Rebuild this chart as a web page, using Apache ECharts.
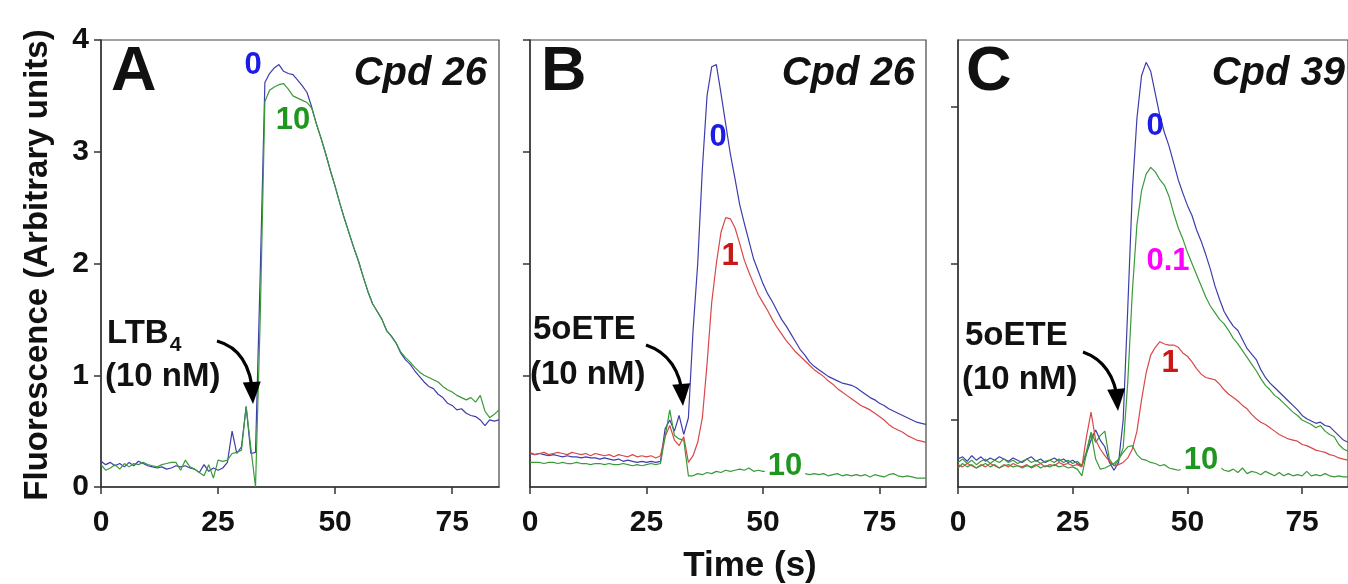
<!DOCTYPE html>
<html><head><meta charset="utf-8">
<script src="https://cdn.jsdelivr.net/npm/echarts@6/dist/echarts.min.js"></script>
<style>html,body{margin:0;padding:0;background:#fff}#c{width:1348px;height:584px}</style>
</head><body><div id="c"></div>
<script>
// ---- data (time in s, fluorescence in arbitrary units) ----
const time = [0,1,2,3,4,5,6,7,8,9,10,11,12,13,14,15,16,17,18,19,20,21,22,23,24,25,26,27,28,29,30,31,32,33,34,35,36,37,38,39,40,41,42,43,44,45,46,47,48,49,50,51,52,53,54,55,56,57,58,59,60,61,62,63,64,65,66,67,68,69,70,71,72,73,74,75,76,77,78,79,80,81,82,83,84,85];
const xTickValues = [0,25,50,75];
const yTickValues = [0,1,2,3,4];

// Panel A (LTB4, Cpd 26)
const A_0 = [0.23,0.20,0.22,0.19,0.21,0.18,0.22,0.19,0.23,0.21,0.19,0.18,0.17,0.18,0.16,0.17,0.19,0.18,0.19,0.17,0.16,0.13,0.20,0.14,0.17,0.15,0.17,0.22,0.50,0.30,0.36,0.72,0.30,0.31,1.90,3.62,3.70,3.75,3.78,3.72,3.70,3.69,3.64,3.59,3.53,3.40,3.25,3.12,2.98,2.83,2.69,2.54,2.40,2.27,2.14,2.02,1.88,1.75,1.64,1.57,1.50,1.40,1.35,1.29,1.20,1.14,1.10,1.04,0.99,0.94,0.90,0.88,0.83,0.80,0.75,0.73,0.69,0.70,0.66,0.64,0.63,0.60,0.55,0.60,0.59,0.60];
const A_10 = [0.20,0.15,0.17,0.20,0.16,0.21,0.18,0.21,0.20,0.22,0.20,0.19,0.18,0.20,0.21,0.22,0.22,0.15,0.24,0.18,0.16,0.13,0.10,0.20,0.08,0.24,0.23,0.24,0.30,0.31,0.33,0.72,0.35,0.00,1.50,3.45,3.55,3.58,3.60,3.61,3.56,3.50,3.48,3.46,3.44,3.39,3.25,3.12,2.98,2.83,2.69,2.54,2.40,2.27,2.14,2.02,1.88,1.75,1.64,1.57,1.50,1.40,1.35,1.29,1.21,1.16,1.12,1.07,1.03,1.00,0.98,0.96,0.94,0.90,0.87,0.85,0.82,0.80,0.78,0.80,0.76,0.82,0.68,0.62,0.65,0.69];

// Panel B (5oETE, Cpd 26)
const B_0 = [0.30,0.29,0.30,0.29,0.28,0.29,0.28,0.27,0.28,0.27,0.27,0.26,0.27,0.26,0.26,0.25,0.26,0.25,0.24,0.25,0.23,0.24,0.23,0.22,0.23,0.22,0.23,0.22,0.23,0.52,0.60,0.50,0.64,0.47,0.62,1.40,2.00,2.85,3.50,3.76,3.78,3.52,3.25,2.98,2.76,2.53,2.36,2.20,2.04,1.93,1.82,1.73,1.66,1.58,1.50,1.44,1.37,1.30,1.23,1.18,1.12,1.08,1.05,1.02,0.99,0.97,0.95,0.93,0.92,0.91,0.89,0.86,0.83,0.80,0.78,0.75,0.73,0.70,0.68,0.66,0.64,0.62,0.60,0.58,0.57,0.56];
const B_1 = [0.31,0.29,0.30,0.31,0.29,0.30,0.31,0.30,0.29,0.31,0.30,0.29,0.30,0.28,0.30,0.29,0.28,0.29,0.27,0.29,0.28,0.27,0.29,0.27,0.28,0.27,0.28,0.26,0.28,0.45,0.55,0.42,0.37,0.45,0.22,0.28,0.40,0.62,1.10,1.65,2.00,2.28,2.41,2.40,2.32,2.18,2.03,1.92,1.82,1.72,1.65,1.58,1.50,1.43,1.37,1.31,1.26,1.21,1.17,1.13,1.09,1.05,1.02,0.99,0.95,0.92,0.88,0.85,0.82,0.79,0.76,0.73,0.71,0.69,0.66,0.63,0.60,0.56,0.53,0.51,0.49,0.46,0.44,0.42,0.41,0.40];
const B_10 = [0.22,0.22,0.22,0.21,0.22,0.22,0.21,0.22,0.21,0.21,0.22,0.21,0.21,0.20,0.21,0.21,0.20,0.21,0.20,0.20,0.21,0.20,0.19,0.20,0.19,0.20,0.21,0.20,0.21,0.45,0.69,0.46,0.43,0.42,0.10,0.10,0.12,0.11,0.13,0.12,0.14,0.13,0.15,0.14,0.15,0.16,0.15,0.17,0.14,0.15,0.14,0.14,0.13,0.13,0.12,0.12,0.12,0.12,0.12,0.12,0.11,0.12,0.11,0.12,0.10,0.11,0.12,0.10,0.11,0.10,0.11,0.10,0.11,0.09,0.11,0.10,0.09,0.11,0.12,0.10,0.09,0.10,0.09,0.08,0.08,0.08];

// Panel C (5oETE, Cpd 39)
const C_0 = [0.25,0.27,0.23,0.28,0.24,0.27,0.23,0.26,0.24,0.27,0.25,0.23,0.26,0.24,0.22,0.25,0.27,0.23,0.25,0.22,0.24,0.26,0.23,0.25,0.22,0.24,0.21,0.19,0.30,0.42,0.51,0.42,0.36,0.22,0.15,0.22,0.60,1.60,2.65,3.30,3.68,3.80,3.72,3.52,3.32,3.17,3.05,2.90,2.75,2.63,2.52,2.43,2.30,2.20,2.08,1.95,1.80,1.68,1.57,1.50,1.44,1.40,1.32,1.24,1.19,1.14,1.05,0.98,0.93,0.89,0.85,0.81,0.77,0.73,0.69,0.64,0.61,0.59,0.57,0.58,0.55,0.54,0.50,0.46,0.42,0.40];
const C_01 = [0.22,0.25,0.21,0.24,0.20,0.23,0.25,0.21,0.24,0.22,0.25,0.22,0.24,0.21,0.23,0.25,0.22,0.24,0.21,0.23,0.24,0.22,0.25,0.22,0.24,0.21,0.23,0.19,0.32,0.49,0.40,0.46,0.50,0.25,0.19,0.24,0.35,0.94,1.75,2.35,2.65,2.80,2.86,2.82,2.75,2.70,2.60,2.45,2.32,2.22,2.10,2.00,1.90,1.80,1.70,1.62,1.56,1.50,1.46,1.40,1.33,1.28,1.22,1.16,1.10,1.04,0.97,0.91,0.87,0.82,0.79,0.75,0.71,0.67,0.64,0.60,0.58,0.56,0.53,0.55,0.50,0.47,0.45,0.38,0.34,0.32];
const C_1 = [0.20,0.18,0.21,0.19,0.17,0.20,0.18,0.21,0.19,0.17,0.20,0.18,0.21,0.19,0.18,0.20,0.17,0.19,0.21,0.18,0.20,0.19,0.22,0.20,0.21,0.19,0.20,0.18,0.45,0.67,0.42,0.34,0.28,0.23,0.19,0.20,0.22,0.26,0.34,0.50,0.78,1.02,1.18,1.25,1.30,1.28,1.27,1.27,1.25,1.20,1.17,1.12,1.06,1.01,0.98,0.97,0.96,0.92,0.87,0.83,0.80,0.77,0.73,0.70,0.65,0.61,0.58,0.56,0.53,0.50,0.47,0.45,0.43,0.42,0.41,0.38,0.37,0.35,0.33,0.32,0.31,0.29,0.28,0.26,0.25,0.24];
const C_10 = [0.17,0.21,0.18,0.20,0.17,0.19,0.21,0.18,0.20,0.17,0.19,0.20,0.18,0.19,0.17,0.19,0.18,0.20,0.17,0.19,0.18,0.20,0.18,0.19,0.17,0.18,0.16,0.10,0.30,0.48,0.25,0.16,0.17,0.19,0.21,0.25,0.31,0.36,0.37,0.29,0.25,0.24,0.22,0.21,0.19,0.20,0.17,0.16,0.15,0.16,0.15,0.16,0.15,0.16,0.15,0.16,0.17,0.18,0.15,0.14,0.16,0.13,0.17,0.12,0.14,0.13,0.11,0.14,0.12,0.10,0.13,0.10,0.12,0.10,0.11,0.10,0.14,0.10,0.11,0.10,0.12,0.10,0.09,0.10,0.09,0.09];

// ---- styling ----
const FONT = '"Liberation Sans", Arial, Helvetica, sans-serif';
const BLUE_LINE = '#3d3dac', GREEN_LINE = '#3a9a3a', RED_LINE = '#d84848';
const AX = '#333';

const chart = echarts.init(document.getElementById('c'), null, {renderer: 'canvas'});
const pair = arr => time.map((t, i) => [t, arr[i]]);

const grids = [
  {left: 101, top: 40, width: 398, height: 447},
  {left: 530, top: 40, width: 396, height: 447},
  {left: 958, top: 40, width: 396, height: 447}
].map(g => Object.assign(g, {show: true, borderColor: '#444', borderWidth: 1.2, backgroundColor: 'transparent', containLabel: false}));

const xAxes = [0, 1, 2].map(i => ({
  gridIndex: i, type: 'value', min: 0, max: 85,
  axisLine: {show: true, onZero: false, lineStyle: {color: AX, width: 1.5}},
  axisTick: {show: true, length: 7, customValues: xTickValues, lineStyle: {color: AX, width: 1.5}},
  axisLabel: {show: true, customValues: xTickValues, fontSize: 30, fontWeight: 'bold', color: '#111', margin: 21, fontFamily: FONT},
  splitLine: {show: false}
}));

const yTickSets = [[0,1,2,3,4], [1,2,3,4], [0.6,2,3.4]];
const yAxes = [0, 1, 2].map(i => ({
  gridIndex: i, type: 'value', min: 0, max: 4,
  axisLine: {show: true, onZero: false, lineStyle: {color: AX, width: 1.5}},
  axisTick: {show: true, length: 7, customValues: yTickSets[i], lineStyle: {color: AX, width: 1.5}},
  axisLabel: {show: i === 0, customValues: yTickValues, fontSize: 30, fontWeight: 'bold', color: '#111', margin: 12, fontFamily: FONT},
  splitLine: {show: false}
}));

function line(idx, data, color, z) {
  return {type: 'line', xAxisIndex: idx, yAxisIndex: idx, data: pair(data), showSymbol: false, symbol: 'none',
    lineStyle: {color: color, width: 1.2}, z: z || 2, animation: false};
}

const series = [
  line(0, A_0, BLUE_LINE), line(0, A_10, GREEN_LINE, 3),
  line(1, B_0, BLUE_LINE), line(1, B_1, RED_LINE, 3), line(1, B_10, GREEN_LINE, 4),
  line(2, C_0, BLUE_LINE), line(2, C_01, GREEN_LINE, 3), line(2, C_1, RED_LINE, 4), line(2, C_10, GREEN_LINE, 5)
];

chart.setOption({animation: false, grid: grids, xAxis: xAxes, yAxis: yAxes, series: series});

// ---- annotations ----
const g = [];
function txt(x, y, text, size, color, opts) {
  opts = opts || {};
  const s = {text: text, x: x, y: y, fill: color, fontSize: size, fontWeight: 'bold', fontFamily: FONT,
    fontStyle: opts.italic ? 'italic' : 'normal', align: opts.align || 'center', verticalAlign: 'middle'};
  if (opts.bg) { s.backgroundColor = '#fff'; s.padding = [0, 3]; }
  g.push({type: 'text', z: 100, silent: true, rotation: opts.rot || 0, x: opts.rot ? x : 0, y: opts.rot ? y : 0,
    style: opts.rot ? Object.assign(s, {x: 0, y: 0}) : s});
}
const meas = document.createElement('canvas').getContext('2d');
function width(text, size) { meas.font = 'bold ' + size + 'px ' + FONT; return meas.measureText(text).width; }

function arrow(p0, c, p2) {
  g.push({type: 'bezierCurve', z: 100, silent: true,
    shape: {x1: p0[0], y1: p0[1], cpx1: c[0], cpy1: c[1], x2: p2[0], y2: p2[1] - 8},
    style: {stroke: '#000', lineWidth: 3.2, fill: null}});
  const dx = p2[0] - c[0], dy = p2[1] - c[1], L = Math.hypot(dx, dy);
  const ux = dx / L, uy = dy / L, len = 22, hw = 9;
  const bx = p2[0] - ux * len, by = p2[1] - uy * len;
  g.push({type: 'polygon', z: 101, silent: true,
    shape: {points: [[p2[0], p2[1]], [bx - uy * hw, by + ux * hw], [bx + uy * hw, by - ux * hw]]},
    style: {fill: '#000'}});
}

// axis titles
txt(38, 265, 'Fluorescence (Arbitrary units)', 33, '#111', {rot: Math.PI / 2});
txt(750, 566, 'Time (s)', 35, '#111');

// panel letters and compound labels
txt(111, 73, 'A', 63, '#111', {align: 'left'});
txt(541, 73, 'B', 63, '#111', {align: 'left'});
txt(966, 73, 'C', 63, '#111', {align: 'left'});
txt(487, 74, 'Cpd 26', 40, '#111', {align: 'right', italic: true});
txt(915, 74, 'Cpd 26', 40, '#111', {align: 'right', italic: true});
txt(1345, 74, 'Cpd 39', 40, '#111', {align: 'right', italic: true});

// stimulus annotations
txt(107, 334, 'LTB', 33, '#111', {align: 'left'});
txt(107 + width('LTB', 33) + 1, 345, '4', 21, '#111', {align: 'left'});
txt(105, 377, '(10 nM)', 33, '#111', {align: 'left'});
arrow([217, 341], [250, 350], [253, 404]);

txt(533, 330, '5oETE', 33, '#111', {align: 'left'});
txt(530, 375, '(10 nM)', 33, '#111', {align: 'left'});
arrow([646, 345], [679, 356], [683, 406]);

txt(965, 336, '5oETE', 33, '#111', {align: 'left'});
txt(962, 380, '(10 nM)', 33, '#111', {align: 'left'});
arrow([1083, 352], [1114, 363], [1118, 411]);

// curve concentration labels
const BLUE_T = '#1c1ce6', GREEN_T = '#1f971f', RED_T = '#c81818', MAG_T = '#ff00ff';
txt(253, 65, '0', 31, BLUE_T);
txt(293, 120, '10', 31, GREEN_T);
txt(718, 137, '0', 31, BLUE_T);
txt(730, 256, '1', 31, RED_T);
txt(785, 466, '10', 31, GREEN_T, {bg: true});
txt(1155, 126, '0', 31, BLUE_T);
txt(1168, 261, '0.1', 31, MAG_T);
txt(1170, 363, '1', 31, RED_T);
txt(1201, 460, '10', 31, GREEN_T, {bg: true});

chart.setOption({graphic: {elements: g}});
</script></body></html>
